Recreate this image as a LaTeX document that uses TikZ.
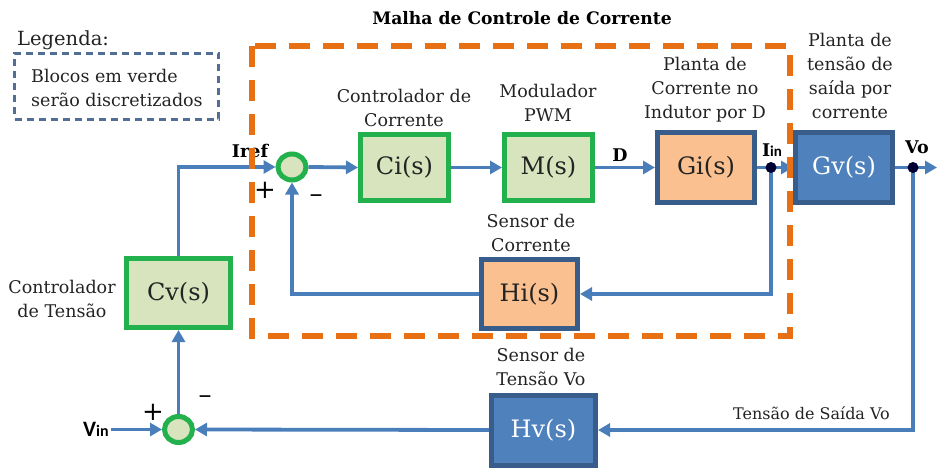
\documentclass[tikz,border=0pt]{standalone}
\usepackage{fontspec}
\setmainfont{DejaVu Serif}
\newfontfamily\lblsans{Carlito}
\usetikzlibrary{arrows.meta,shapes.geometric}
\definecolor{grborder}{RGB}{34,177,76}
\definecolor{grfill}{RGB}{215,228,189}
\definecolor{orfill}{RGB}{250,192,144}
\definecolor{dkblue}{RGB}{56,93,138}
\definecolor{bfill}{RGB}{79,129,189}
\definecolor{lineblue}{RGB}{74,126,187}
\definecolor{orline}{RGB}{232,112,20}
\definecolor{legblue}{RGB}{80,110,150}
\definecolor{txt}{RGB}{35,35,35}
\tikzset{
  blk/.style={draw, rectangle, line width=5pt, inner sep=0pt, font=\fontsize{24}{26}\selectfont, text=txt},
  grblk/.style={blk, draw=grborder, fill=grfill},
  orblk/.style={blk, draw=dkblue, fill=orfill},
  bblk/.style={blk, draw=dkblue, fill=bfill, text=white},
  sumnode/.style={draw=grborder, fill=grfill, ellipse, line width=5pt, minimum width=28pt, minimum height=26pt, inner sep=0pt},
  lbl/.style={align=center, font=\fontsize{17.5}{24}\selectfont, text=txt, inner sep=0pt},
  bold/.style={font=\fontsize{17.5}{18}\selectfont\bfseries, text=black, inner sep=0pt},
  conn/.style={draw=lineblue, line width=3.8pt},
  arr/.style={conn, -{Triangle[length=12pt,width=13pt]}},
  dot/.style={circle, fill=black!80!blue, inner sep=0pt, minimum size=11pt},
  sgn/.style={font=\fontsize{26}{26}\selectfont, text=black, inner sep=0pt}
}
\begin{document}
\begin{tikzpicture}[x=1pt,y=-1pt]
\useasboundingbox (0,0) rectangle (937,468);
% legend
\node[anchor=west, font=\fontsize{19.5}{20}\selectfont, text=txt, inner sep=0pt] (leg) at (17,40) {Legenda:};
\node[draw=legblue, dash pattern=on 7pt off 5pt, line width=2.5pt, minimum width=204pt, minimum height=66pt, inner sep=0pt] (legbox) at (116.5,86.5) {};
\node[lbl, align=left, anchor=west] (legtxt) at (31,87.5) {Blocos em verde\\serão discretizados};
% title
\node[font=\fontsize{17.2}{18}\selectfont\bfseries, text=black, inner sep=0pt] (title) at (522,18) {Malha de Controle de Corrente};
% blocks
\node[grblk, minimum width=88pt, minimum height=66pt] (ci) at (404.5,167.5) {Ci(s)};
\node[grblk, minimum width=88pt, minimum height=66pt] (m) at (548.5,167.5) {M(s)};
\node[orblk, minimum width=97pt, minimum height=70pt] (gi) at (706,167.5) {Gi(s)};
\node[bblk, minimum width=97pt, minimum height=69pt] (gv) at (844,167.5) {Gv(s)};
\node[grblk, minimum width=104pt, minimum height=69pt] (cv) at (178.5,293) {Cv(s)};
\node[orblk, minimum width=96pt, minimum height=69pt] (hi) at (529.5,294) {Hi(s)};
\node[bblk, minimum width=104pt, minimum height=70pt] (hv) at (543.5,430) {Hv(s)};
\node[sumnode] (s1) at (292,167) {};
\node[sumnode] (s2) at (178.5,429.5) {};
% block labels
\node[lbl] (lci) at (404,107.5) {Controlador de\\Corrente};
\node[lbl] (lm) at (548,102.5) {Modulador\\PWM};
\node[lbl] (lgi) at (705,90) {Planta de\\Corrente no\\Indutor por D};
\node[lbl] (lgv) at (850,76) {Planta de\\tensão de\\saída por\\corrente};
\node[lbl] (lhi) at (531,232.5) {Sensor de\\Corrente};
\node[lbl] (lcv) at (62,299) {Controlador\\de Tensão};
\node[lbl] (lhv) at (541,366.5) {Sensor de\\Tensão Vo};
\node[lbl, font=\fontsize{16}{24}\selectfont] (lvo) at (811.5,413) {Tensão de Saída Vo};
% signal labels
\node[bold] (liref) at (250,151) {Iref};
\node[bold] (ld) at (620,155) {D};
\node[bold] (lvolt) at (917,147) {Vo};
\node[inner sep=0pt, text=black] (liin) at (772,150) {\fontsize{17.5}{18}\selectfont\bfseries I\lblsans\fontsize{15}{16}\selectfont in};
\node[inner sep=0pt, text=black] (lvin) at (96,429) {\lblsans\bfseries\fontsize{22}{22}\selectfont V\fontsize{16}{16}\selectfont in};
\node[sgn] (p1) at (265,190) {+};
\node[sgn] (m1) at (316,199) {--};
\node[sgn] (p2) at (153,412) {+};
\node[sgn] (m2) at (205,400) {--};
% coordinates
\coordinate (iin) at (771,167.5);
\coordinate (vo) at (913,167.5);
\coordinate (voend) at (937,167.5);
\coordinate (vin) at (111,429.5);
% connectors
\draw[arr] (cv.north) -- (cv.north |- s1) -- (s1.west);
\draw[arr] (s1.east) -- (ci.west);
\draw[arr] (ci.east) -- (m.west);
\draw[arr] (m.east) -- (gi.west);
\draw[arr] (gi.east) -- (gv.west);
\draw[arr] (gv.east) -- (voend);
\draw[arr] (vo) |- (hv.east);
\draw[arr] (iin) |- (hi.east);
\draw[arr] (hi.west) -| (s1.south);
\draw[arr] (hv.west) -- (s2.east);
\draw[arr] (vin) -- (s2.west);
\draw[arr] (s2.north) -- (cv.south);
\node[dot] (diin) at (iin) {};
\node[dot] (dvo) at (vo) {};
% current loop box
\draw[orline, line width=5.5pt, dash pattern=on 21pt off 13pt] (252,46) rectangle (790,336);
\end{tikzpicture}
\end{document}
